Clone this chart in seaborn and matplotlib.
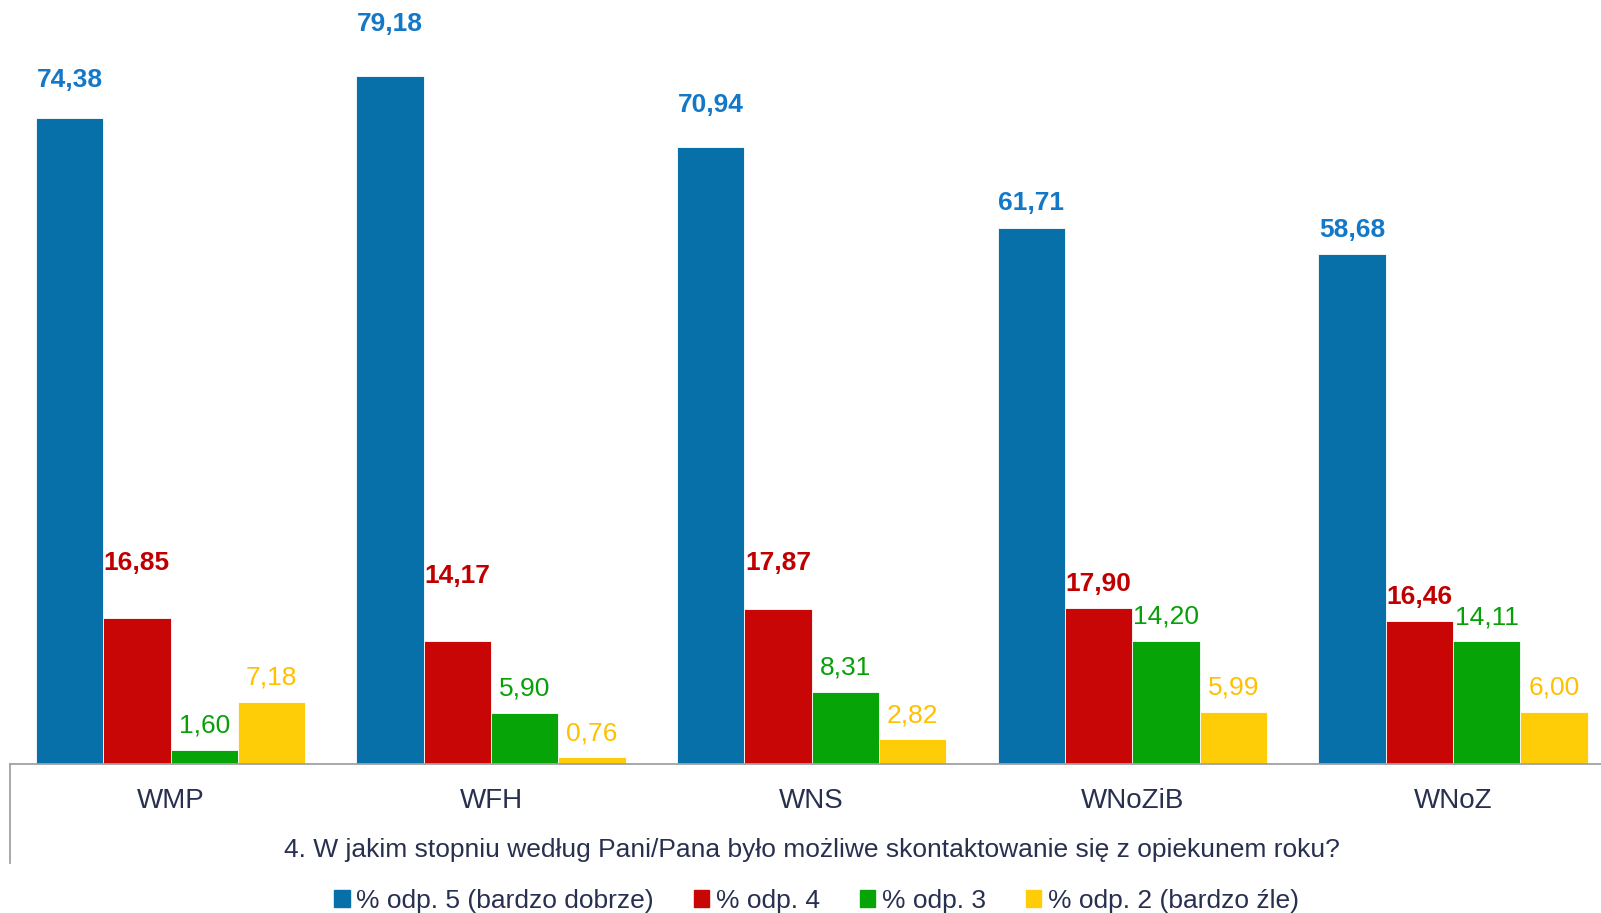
import matplotlib
matplotlib.use("Agg")
import matplotlib.pyplot as plt
import matplotlib.patches as mpatches
import pandas as pd
import seaborn as sns

# ── data ─────────────────────────────────────────────────────────────────────
categories = ["WMP", "WFH", "WNS", "WNoZiB", "WNoZ"]
series = ["% odp. 5 (bardzo dobrze)", "% odp. 4", "% odp. 3", "% odp. 2 (bardzo źle)"]
odp5 = [74.38, 79.18, 70.94, 61.71, 58.68]
odp4 = [16.85, 14.17, 17.87, 17.90, 16.46]
odp3 = [1.60, 5.90, 8.31, 14.20, 14.11]
odp2 = [7.18, 0.76, 2.82, 5.99, 6.00]
xlabel = "4. W jakim stopniu według Pani/Pana było możliwe skontaktowanie się z opiekunem roku?"

BAR_COLORS = ["#0870A8", "#C80606", "#06A406", "#FFCC08"]
LABEL_COLORS = ["#1478C8", "#C00000", "#08A008", "#FFC000"]
LABEL_BOLD = [True, True, False, False]
TEXT = "#283050"

# manual nudges of some value labels (extra points upward), like in the original
nudge = {(0, 0): 9.5, (0, 1): 22, (1, 0): 20, (1, 1): 29, (2, 0): 13, (2, 1): 15.5}

df = pd.DataFrame({
    "cat": categories * 4,
    "series": [s for s in series for _ in categories],
    "val": odp5 + odp4 + odp3 + odp2,
})

plt.rcParams["font.family"] = ["Liberation Sans", "DejaVu Sans"]

W, H = 1601, 913
fig = plt.figure(figsize=(W / 100, H / 100), dpi=100)
ax = fig.add_axes([10.2 / W, 149 / H, 1603 / W, 764 / H])

sns.barplot(data=df, x="cat", y="val", hue="series", palette=BAR_COLORS,
            order=categories, hue_order=series, width=0.84, gap=0, saturation=1,
            edgecolor="white", linewidth=0.6, ax=ax, legend=False)

ax.set_xlim(-0.5, 4.5)
ax.set_ylim(0, 87.9)

for si, cont in enumerate(ax.containers):
    for ci, bar in enumerate(cont):
        val = bar.get_height()
        ax.annotate(f"{val:.2f}".replace(".", ","),
                    (bar.get_x() + bar.get_width() / 2, val),
                    xytext=(0, 17.5 + nudge.get((ci, si), 0)),
                    textcoords="offset points", ha="center", va="center",
                    fontsize=19, color=LABEL_COLORS[si],
                    fontweight="bold" if LABEL_BOLD[si] else "normal")

for s in ["top", "right", "left"]:
    ax.spines[s].set_visible(False)
ax.spines["bottom"].set_color("#A0A0A8")
ax.spines["bottom"].set_linewidth(1.3)
ax.plot([0, 0], [0, -99 / 764], transform=ax.transAxes, color="#A0A0A8",
        linewidth=1.3, clip_on=False)

ax.set_yticks([])
ax.set_ylabel("")
ax.tick_params(axis="x", length=0, pad=17, labelsize=20, labelcolor=TEXT)
ax.set_xlabel(xlabel, fontsize=19, color=TEXT)
ax.xaxis.set_label_coords(0.5, -86 / 764)
ax.xaxis.label.set_va("center")

handles = [mpatches.Patch(color=c, label=s) for c, s in zip(BAR_COLORS, series)]
fig.legend(handles=handles, loc="center", bbox_to_anchor=(0.51, 12 / H), ncol=4,
           frameon=False, fontsize=19, labelcolor=TEXT, handlelength=0.6,
           handleheight=0.6, handletextpad=0.25, columnspacing=1.5,
           borderaxespad=0)

fig.savefig("out.png", dpi=100)
